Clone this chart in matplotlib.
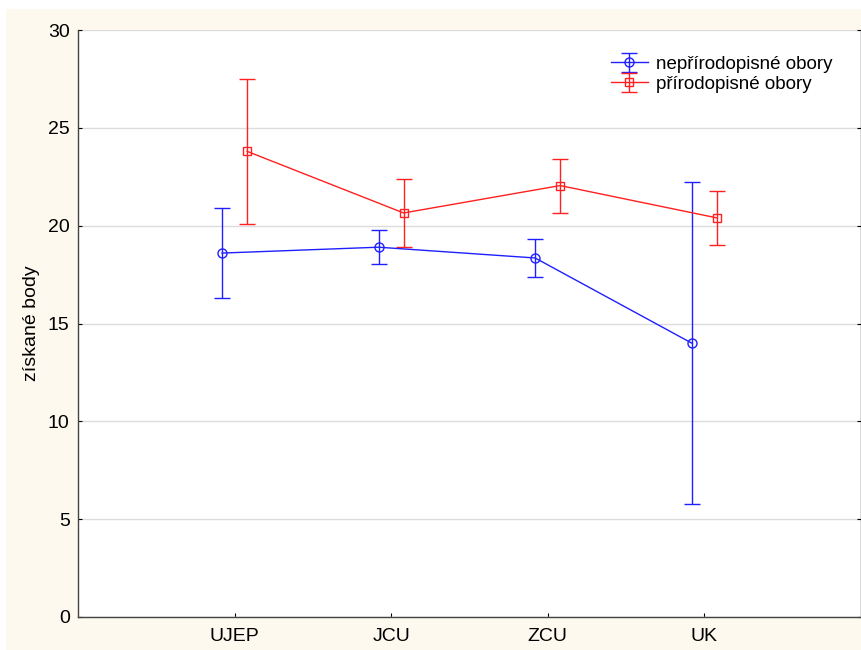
import numpy as np
import matplotlib.pyplot as plt
from matplotlib.patches import Rectangle

plt.rcParams["font.family"] = ["Liberation Sans", "DejaVu Sans"]

categories = ["UJEP", "JCU", "ZCU", "UK"]

neprir_mean = [18.6, 18.9, 18.35, 14.0]
neprir_err = [2.3, 0.87, 0.97, 8.25]

prir_mean = [23.8, 20.65, 22.05, 20.4]
prir_err = [3.72, 1.74, 1.38, 1.38]

x = np.arange(1, len(categories) + 1)

fig = plt.figure(figsize=(8.62, 6.50), dpi=100, facecolor="white")
# cream background panel (thin white margin at top/left as in the source)
fig.patches.append(Rectangle((6 / 862, 0), 1, 1 - 9 / 650,
                             transform=fig.transFigure, facecolor="#fdf9ee",
                             edgecolor="none", zorder=-10))
ax = fig.add_axes([0.0905, 0.0508, 0.908, 0.903])
ax.set_facecolor("white")

ax.errorbar(x - 0.08, neprir_mean, yerr=neprir_err, color="#1f1fff",
            marker="o", markersize=6.5, markerfacecolor="none",
            linewidth=1, elinewidth=1, capsize=5.5, capthick=1,
            label="nepřírodopisné obory")
ax.errorbar(x + 0.08, prir_mean, yerr=prir_err, color="#ff2020",
            marker="s", markersize=6, markerfacecolor="none",
            linewidth=1, elinewidth=1, capsize=5.5, capthick=1,
            label="přírodopisné obory")

ax.set_xlim(0, 5)
ax.set_ylim(0, 30)
ax.set_xticks(x)
ax.set_xticklabels(categories)
ax.set_yticks(range(0, 31, 5))
ax.yaxis.grid(True, color="#dcdcdc", linewidth=1)
ax.set_axisbelow(True)
ax.tick_params(axis="x", direction="in", length=3, labelsize=14, pad=8)
ax.tick_params(axis="y", direction="in", length=3, labelsize=14, pad=6)
ax.tick_params(axis="y", right=True, labelright=False)
ax.set_ylabel("získané body", fontsize=14, labelpad=6)

for s in ax.spines.values():
    s.set_color("#444444")
    s.set_linewidth(1)
ax.spines["top"].set_visible(False)

ax.legend(loc="upper right", bbox_to_anchor=(0.985, 0.985), frameon=False,
          fontsize=13.5, handlelength=2.0, handletextpad=0.4, labelspacing=0.15)

plt.savefig("out.png", dpi=100, facecolor=fig.get_facecolor())
